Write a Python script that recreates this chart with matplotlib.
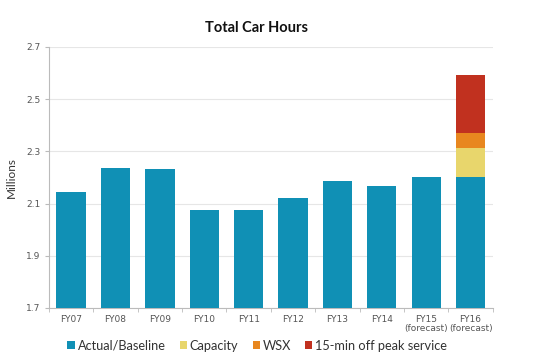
import matplotlib
matplotlib.use("Agg")
import matplotlib.pyplot as plt
import numpy as np

categories = ["FY07", "FY08", "FY09", "FY10", "FY11", "FY12", "FY13", "FY14",
              "FY15\n(forecast)", "FY16\n(forecast)"]
baseline = [2.146, 2.238, 2.231, 2.074, 2.077, 2.122, 2.187, 2.169, 2.201, 2.200]
capacity = [0, 0, 0, 0, 0, 0, 0, 0, 0, 0.114]
wsx = [0, 0, 0, 0, 0, 0, 0, 0, 0, 0.055]
offpeak = [0, 0, 0, 0, 0, 0, 0, 0, 0, 0.222]
series_names = ["Actual/Baseline", "Capacity", "WSX", "15-min off peak service"]
yticks = [1.7, 1.9, 2.1, 2.3, 2.5, 2.7]

colors = ["#1090B5", "#E8D66C", "#E8871F", "#C1311F"]
ymin = 1.7

plt.rcParams['font.family'] = ['Lato', 'DejaVu Sans']

fig = plt.figure(figsize=(5.5, 3.64), dpi=100)
ax = fig.add_axes([0.089, 0.154, 0.807, 0.717])

x = np.arange(len(categories))
w = 0.66
bottom = np.array(baseline, dtype=float)
ax.bar(x, np.array(baseline) - ymin, w, bottom=ymin, color=colors[0], label=series_names[0], zorder=3)
for vals, c, name in zip([capacity, wsx, offpeak], colors[1:], series_names[1:]):
    vals = np.array(vals, dtype=float)
    ax.bar(x, vals, w, bottom=bottom, color=c, label=name, zorder=3)
    bottom = bottom + vals

ax.set_ylim(1.7, 2.7)
ax.set_xlim(-0.5, len(categories) - 0.5)
ax.set_yticks(yticks)
ax.set_yticklabels([f"{v:.1f}" for v in yticks], family="DejaVu Sans")
ax.yaxis.grid(True, color="#E6E6E6", linewidth=0.8, zorder=0)
ax.set_xticks(x)
ax.set_xticklabels(categories, fontsize=6.5, color="#555555", linespacing=1.0, family="DejaVu Sans")
ax.set_xticks(np.arange(-0.5, len(categories), 1), minor=True)
ax.tick_params(axis="x", which="major", length=0, pad=5)
ax.tick_params(axis="x", which="minor", length=3, color="#BBBBBB")
ax.tick_params(axis="y", length=3, color="#BBBBBB", labelsize=6.5, labelcolor="#555555", pad=3)
for s in ["top", "right"]:
    ax.spines[s].set_visible(False)
ax.spines["left"].set_color("#BBBBBB")
ax.spines["bottom"].set_color("#BBBBBB")

ax.set_ylabel("Millions", fontsize=8.5, color="#333333", labelpad=7)
fig.text(0.467, 0.922, "Total Car Hours", ha="center", va="center", fontsize=10.5, fontweight="bold", color="#111111")

handles, labels = ax.get_legend_handles_labels()
fig.legend(handles, labels, loc="center", bbox_to_anchor=(0.468, 0.05), ncol=4, frameon=False,
           fontsize=9.2, handlelength=0.55, handleheight=0.55, handletextpad=0.25, columnspacing=1.1,
           labelcolor="#333333")

fig.savefig("out.png", dpi=100)
